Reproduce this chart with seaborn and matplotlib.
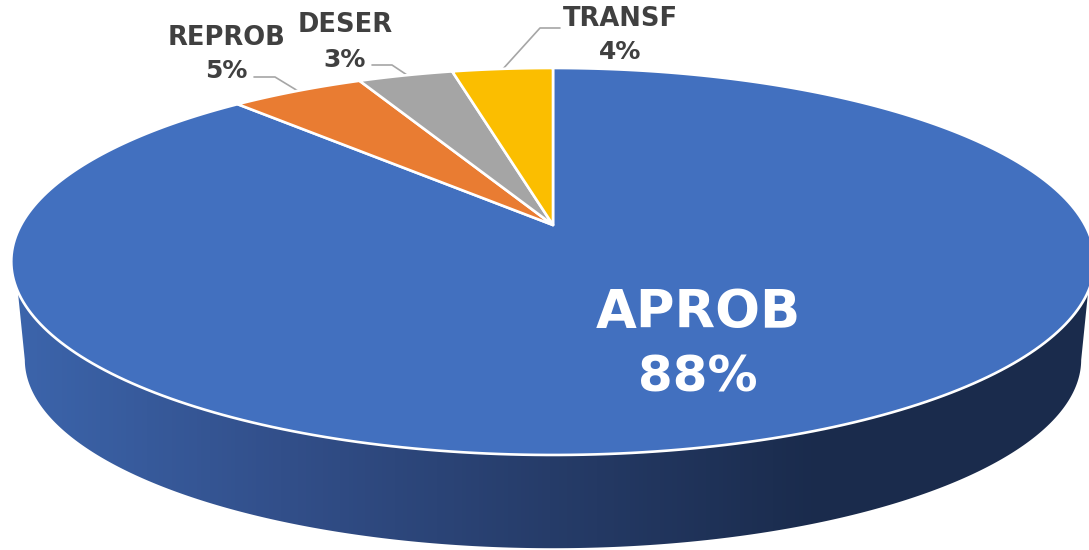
import numpy as np
import seaborn as sns
import matplotlib
matplotlib.use('Agg')
import matplotlib.pyplot as plt
from matplotlib.colors import LinearSegmentedColormap
from matplotlib.patches import Polygon

categories = ['APROB', 'REPROB', 'DESER', 'TRANSF']
values = [88.2, 4.8, 3.4, 3.6]
slice_colors = ['#4270BF', '#E97C32', '#A5A5A5', '#FBBE00']
side_colors = ['#3C65AC', '#324F8A', '#263C69', '#1A2B4C', '#1A2B4C']

# label layout in pixels: name centre, percent centre
label_pos = {'REPROB': (226, 38, 226, 71), 'DESER': (345, 25, 345, 60), 'TRANSF': (620, 19, 620, 52)}
leaders = {
    'REPROB': [(254, 77), (275, 77), (298, 91)],
    'DESER': [(372, 65), (392, 65), (407, 75)],
    'TRANSF': [(560, 28), (540, 28), (502, 70)],
}

# perspective of the pie disc, in pixels
CX, CY = 553, 225
A, B, K = 532, 186.6, 0.1886
DEPTH_Y, DEPTH_SCALE = 99, 0.975


def project(u, v, scale=1.0, dy=0.0):
    w = 1 + K * v
    return CX + scale * A * u / w, CY + dy - scale * B * v / w


sns.set_theme(style='white')
plt.rcParams['font.family'] = ['DejaVu Sans']

fig, ax = plt.subplots(figsize=(10.89, 5.5), dpi=100)
fig.subplots_adjust(0, 0, 1, 1)

wedges, _ = ax.pie(values, startangle=90, counterclock=False, colors=sns.color_palette(slice_colors))
ax.set_aspect('auto')
ax.set_xlim(0, 1089)
ax.set_ylim(550, 0)
ax.axis('off')

# side wall first: rim of the disc going round the front, back along the lower rim
t = np.radians(np.linspace(172, 368, 300))
top_x, top_y = project(np.cos(t), np.sin(t))
t2 = np.radians(np.linspace(349, 191, 300))
low_x, low_y = project(np.cos(t2), np.sin(t2), DEPTH_SCALE, DEPTH_Y)
keep = top_y >= 290
side = Polygon(np.r_[np.c_[top_x[keep], top_y[keep]], np.c_[low_x, low_y]], closed=True,
               facecolor='none', edgecolor='none')
ax.add_patch(side)
cmap = LinearSegmentedColormap.from_list('side', side_colors)
grad = ax.imshow(np.linspace(0, 1, 256)[None, :], cmap=cmap, extent=(12, 1089, 550, 200),
                 aspect='auto', zorder=1)
grad.set_clip_path(side)
ax.set_xlim(0, 1089)
ax.set_ylim(550, 0)

# top face, from the angles the pie worked out
for w in wedges:
    th = np.radians(np.linspace(w.theta1, w.theta2, 300))
    x, y = project(np.cos(th), np.sin(th))
    pts = np.r_[[[CX, CY]], np.c_[x, y]]
    color = w.get_facecolor()
    w.remove()
    ax.add_patch(Polygon(pts, closed=True, facecolor=color, edgecolor='white', linewidth=1.9,
                         joinstyle='round', zorder=3))

for name, pct in zip(categories, values):
    label = f'{pct:.0f}%'
    if name == 'APROB':
        ax.text(698, 313, name, color='white', fontsize=38, fontweight='bold', ha='center', va='center', zorder=5)
        ax.text(698, 378, label, color='white', fontsize=36, fontweight='bold', ha='center', va='center', zorder=5)
        continue
    nx, ny, px, py = label_pos[name]
    ax.text(nx, ny, name, color='#404040', fontsize=18.5, fontweight='bold', ha='center', va='center', zorder=5)
    ax.text(px, py, label, color='#404040', fontsize=18, fontweight='bold', ha='center', va='center', zorder=5)
    lx, ly = zip(*leaders[name])
    ax.plot(lx, ly, color='#A6A6A6', linewidth=1.2, zorder=2)

fig.savefig('out.png', dpi=100)
